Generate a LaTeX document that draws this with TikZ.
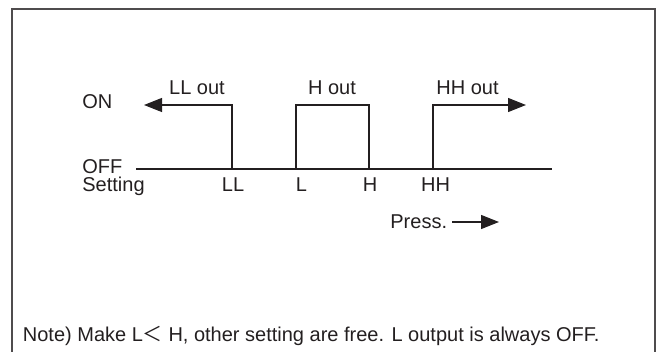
\documentclass[tikz,border=0pt]{standalone}
\usepackage{fontspec}
\setmainfont{Liberation Sans}
\newfontfamily\cjk{Noto Sans CJK JP}
\usetikzlibrary{arrows.meta}
\definecolor{ink}{HTML}{231F20}
\begin{document}
\begin{tikzpicture}[x=0.5pt,y=-0.5pt,
  lbl/.style={inner sep=0pt,font=\fontsize{10}{12}\selectfont,text=ink},
  sig/.style={draw=ink,line width=0.55pt},
  axis/.style={draw=ink,line width=1.1pt},
  frame/.style={draw=ink!80,line width=0.8pt},
  tip/.style={-{Triangle[length=9pt,width=7pt]}}]
\useasboundingbox (0,0) rectangle (662,352);
% frame (open at the bottom)
\coordinate (fbl) at (12,360);
\coordinate (ftl) at (12,9);
\coordinate (ftr) at (655,9);
\coordinate (fbr) at (655,360);
\draw[frame] (fbl) -- (ftl) -- (ftr) -- (fbr);
% coordinates
\coordinate (offs) at (136,169);
\coordinate (offe) at (552,169);
\coordinate (LLb) at (232,169);
\coordinate (LLt) at (232,105);
\coordinate (LLtip) at (144,105);
\coordinate (Lb) at (296,169);
\coordinate (Lt) at (296,105);
\coordinate (Ht) at (369,105);
\coordinate (Hb) at (369,169);
\coordinate (HHb) at (433,169);
\coordinate (HHt) at (433,105);
\coordinate (HHtip) at (526,105);
\coordinate (ps) at (452,222);
\coordinate (pe) at (499,222);
% axis
\draw[axis] (offs) -- (offe);
% signals
\draw[sig,tip] (LLb) -- (LLt) -- (LLtip);
\draw[sig] (Lb) -- (Lt) -- (Ht) -- (Hb);
\draw[sig,tip] (HHb) -- (HHt) -- (HHtip);
\draw[sig,tip] (ps) -- (pe);
% labels
\node[lbl,anchor=base west] (on) at (82,109) {ON};
\node[lbl,anchor=base west] (off) at (82,173) {OFF};
\node[lbl,anchor=base west] (set) at (82,191.5) {Setting};
\node[lbl,anchor=base] (llout) at (197,95) {LL out};
\node[lbl,anchor=base] (hout) at (332,95) {H out};
\node[lbl,anchor=base] (hhout) at (467.5,95) {HH out};
\node[lbl,anchor=base] (ll) at (233,191.5) {LL};
\node[lbl,anchor=base west] (l) at (295.5,191.5) {L};
\node[lbl,anchor=base] (h) at (370,191.5) {H};
\node[lbl,anchor=base] (hh) at (435.5,191.5) {HH};
\node[lbl,anchor=base west] (press) at (390,228) {Press.};
\node[lbl,anchor=base west] (note) at (22.5,341) {Note) Make L{\cjk ＜} H, other setting are free. L output is always OFF.};
\end{tikzpicture}
\end{document}
